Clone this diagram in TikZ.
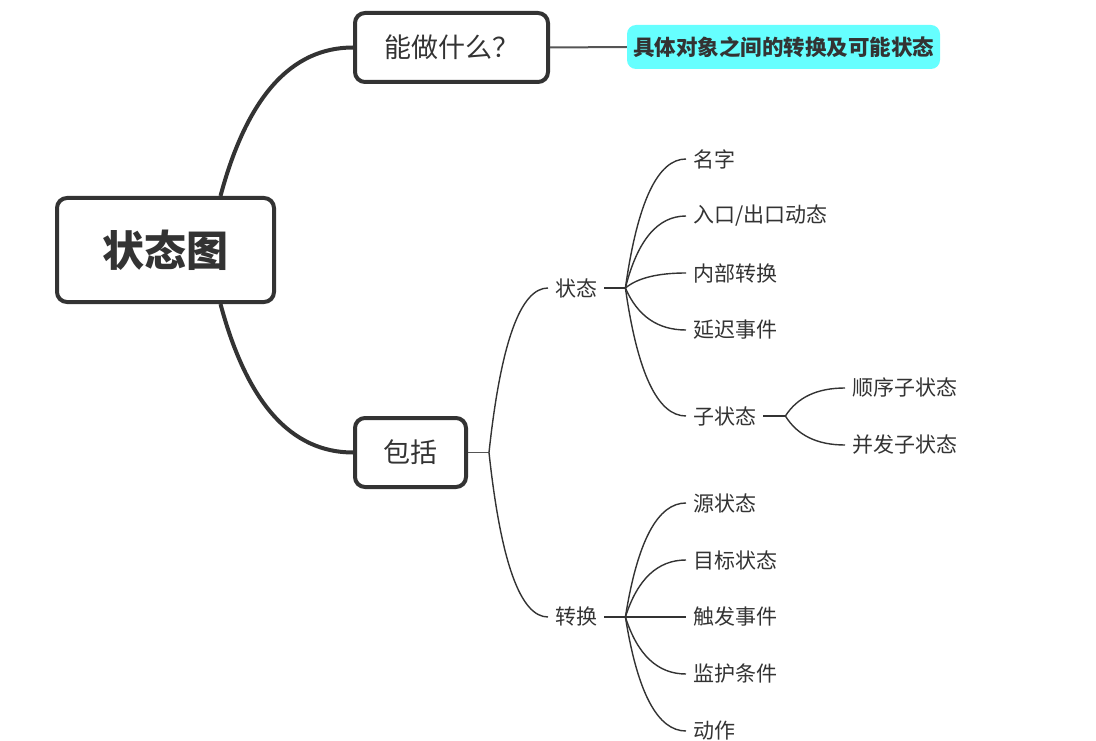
\documentclass[tikz,border=0pt]{standalone}
\usepackage{fontspec}
\setmainfont{Noto Sans CJK SC}
\usepackage{tikz}
\usetikzlibrary{calc}
\definecolor{ink}{HTML}{333333}
\definecolor{linkgray}{HTML}{555555}
\definecolor{hilite}{HTML}{66FFFF}

\begin{document}
\begin{tikzpicture}[x=1pt,y=-1pt,
  topic/.style={draw=ink,line width=4pt,rounded corners=10pt,text=ink,inner sep=0pt,
    font=\fontsize{27}{31}\selectfont},
  leaf/.style={anchor=west,inner xsep=7pt,inner ysep=2pt,text=ink,
    font=\fontsize{21}{25}\selectfont},
  branch/.style={to path={let \p1=(\tikztostart),\p2=(\tikztotarget) in
    .. controls ({\x1+0.2*(\x2-\x1)},{\y1+0.667*(\y2-\y1)})
    and ({\x1+0.533*(\x2-\x1)},\y2) .. (\tikztotarget)}},
  thin/.style={draw=ink,line width=1.4pt},
  stub/.style={draw=ink,line width=2.4pt}]
\useasboundingbox (0,0) rectangle (1096,741);

\node[topic,minimum width=217pt,minimum height=104pt,
  font=\fontsize{42}{46}\selectfont\bfseries] (root) at (165.5,250) {状态图};
\node[topic,minimum width=193pt,minimum height=69pt] (can) at (451.5,47.5) {能做什么？};
\node[fill=hilite,rounded corners=9pt,minimum width=313pt,minimum height=44pt,inner sep=0pt,
  text=ink,font=\fontsize{21.5}{25}\selectfont\bfseries] (goal) at (783.5,47) {具体对象之间的转换及可能状态};
\node[topic,minimum width=111pt,minimum height=69pt] (bao) at (410.5,452.5) {包括};

\coordinate (rt) at ($(root.north)+(55,0)$);
\coordinate (rb) at ($(root.south)+(55,0)$);
\draw[ink,line width=4pt] (rt) to[branch] (can.west);
\draw[ink,line width=4pt] (rb) to[branch] (bao.west);
\draw[linkgray,line width=2pt] (can.east) -- (goal.west);

\node[leaf] (zt) at (548,288) {状态};
\node[leaf] (zh) at (548,617) {转换};
\coordinate (bof) at ($(bao.east)+(21,0)$);
\draw[linkgray,line width=1.5pt] (bao.east) -- (bof);
\draw[thin] (bof) to[branch] (zt.west);
\draw[thin] (bof) to[branch] (zh.west);

\node[leaf] (mz) at (686,159) {名字};
\node[leaf] (rk) at (686,216) {入口/出口动态};
\node[leaf] (nb) at (686,273) {内部转换};
\node[leaf] (yc) at (686,330) {延迟事件};
\node[leaf] (zz) at (686,416) {子状态};
\coordinate (ztf) at ($(zt.east)+(21,0)$);
\draw[stub] (zt.east) -- (ztf);
\foreach \kid in {mz,rk,nb,yc,zz}
  \draw[thin] (ztf) to[branch] (\kid.west);

\node[leaf] (sx) at (845,388) {顺序子状态};
\node[leaf] (bx) at (845,445) {并发子状态};
\coordinate (zzf) at ($(zz.east)+(22,0)$);
\draw[stub] (zz.east) -- (zzf);
\foreach \kid in {sx,bx}
  \draw[thin] (zzf) to[branch] (\kid.west);

\node[leaf] (yz) at (686,503) {源状态};
\node[leaf] (mb) at (686,560) {目标状态};
\node[leaf] (cf) at (686,617) {触发事件};
\node[leaf] (jh) at (686,674) {监护条件};
\node[leaf] (dz) at (686,731) {动作};
\coordinate (zhf) at ($(zh.east)+(21,0)$);
\draw[stub] (zh.east) -- (zhf);
\foreach \kid in {yz,mb,cf,jh,dz}
  \draw[thin] (zhf) to[branch] (\kid.west);
\end{tikzpicture}
\end{document}
